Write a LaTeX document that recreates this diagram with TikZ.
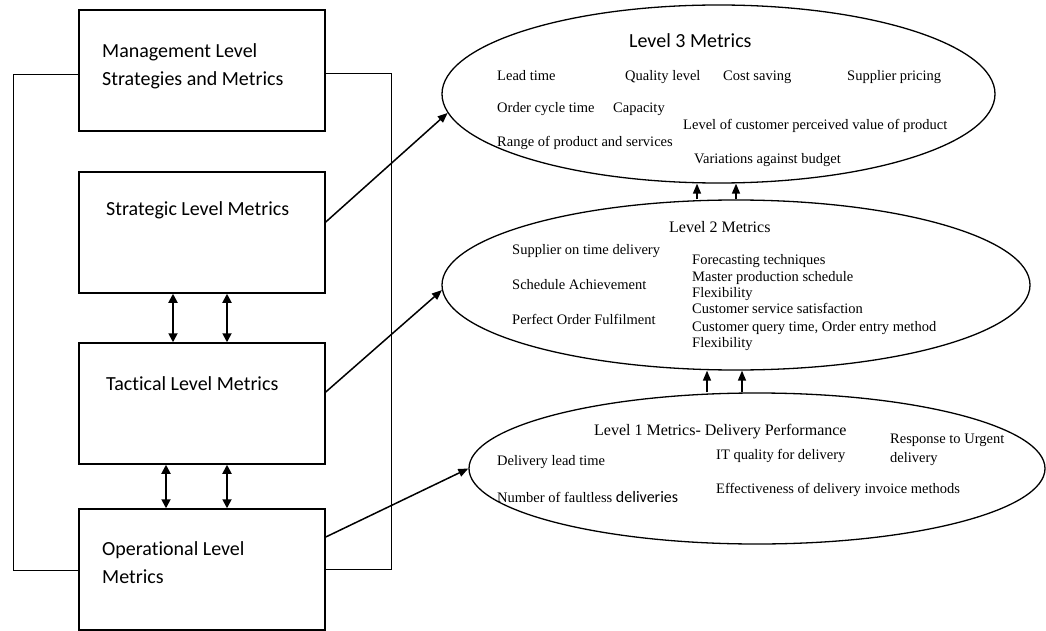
\documentclass[tikz,border=0pt]{standalone}
\usepackage{fontspec}
\setmainfont{Liberation Serif}
\newfontfamily\calibri[Ligatures=NoCommon]{Carlito}
\usetikzlibrary{arrows.meta,shapes.geometric}

\begin{document}
\begin{tikzpicture}[x=1pt,y=-1pt,
  box/.style={draw, line width=1.5pt, minimum width=246pt, minimum height=121pt, inner sep=0pt},
  oval/.style={draw, ellipse, line width=1.3pt, inner sep=0pt},
  boxtext/.style={anchor=base west, inner sep=0pt, font=\calibri\fontsize{20}{24}\selectfont},
  heading/.style={anchor=base west, inner sep=0pt, font=\fontsize{16}{19}\selectfont},
  item/.style={anchor=base west, inner sep=0pt, font=\fontsize{14.5}{17}\selectfont},
  link/.style={line width=1.5pt, -{Triangle[length=10pt,width=8pt]}},
  twoway/.style={line width=1.8pt, {Triangle[length=9pt,width=9pt]}-{Triangle[length=9pt,width=9pt]}},
  loopline/.style={line width=1pt}
]
\useasboundingbox (0,0) rectangle (1046,631);

% hierarchy of management levels
\node[box] (mgmt)  at (202,70.5)  {};
\node[box] (strat) at (202,232.5) {};
\node[box] (tact)  at (202,403.5) {};
\node[box] (oper)  at (202,569.5) {};

\node[boxtext] (mgmtA)  at (102,58)  {Management Level};
\node[boxtext] (mgmtB)  at (102,86)  {Strategies and Metrics};
\node[boxtext] (stratT) at (106,215) {Strategic Level Metrics};
\node[boxtext] (tactT)  at (106,390) {Tactical Level Metrics};
\node[boxtext] (operA)  at (102,555) {Operational Level};
\node[boxtext] (operB)  at (102,583) {Metrics};

% frame linking management and operational levels
\coordinate (lt) at (13,75);
\coordinate (lb) at (13,570);
\coordinate (rt) at (391,74);
\coordinate (rb) at (391,569);
\draw[loopline] (mgmt.west |- lt) -- (lt) -- (lb) -- (oper.west |- lb);
\draw[loopline] (mgmt.east |- rt) -- (rt) -- (rb) -- (oper.east |- rb);

% two-way links between levels
\draw[twoway] (strat.south -| 173,0) -- (tact.north -| 173,0);
\draw[twoway] (strat.south -| 227,0) -- (tact.north -| 227,0);
\draw[twoway] (tact.south -| 166,0) -- (oper.north -| 166,0);
\draw[twoway] (tact.south -| 227,0) -- (oper.north -| 227,0);

% metric ellipses
\node[oval, minimum width=553pt, minimum height=178pt] (L3) at (718.5,94) {};
\node[oval, minimum width=588pt, minimum height=170pt] (L2) at (736,285) {};
\node[oval, minimum width=576pt, minimum height=151pt] (L1) at (757,468.5) {};

% Level 3
\node[anchor=base west, inner sep=0pt, font=\calibri\fontsize{20}{24}\selectfont] (t3) at (629,48) {Level 3 Metrics};
\node[item] (l3a) at (497,81)  {Lead time};
\node[item] (l3b) at (625,81)  {Quality level};
\node[item] (l3c) at (723,81)  {Cost saving};
\node[item] (l3d) at (847,81)  {Supplier pricing};
\node[item] (l3e) at (497,113) {Order cycle time};
\node[item] (l3f) at (613,113) {Capacity};
\node[item] (l3g) at (683,130) {Level of customer perceived value of product};
\node[item] (l3h) at (497,147) {Range of product and services};
\node[item] (l3i) at (694,164) {Variations against budget};

% Level 2
\node[heading] (t2) at (669,233) {Level 2 Metrics};
\node[item] (l2a) at (512,254) {Supplier on time delivery};
\node[item] (l2b) at (512,289) {Schedule Achievement};
\node[item] (l2c) at (512,324) {Perfect Order Fulfilment};
\node[item] (l2d) at (692,264) {Forecasting techniques};
\node[item] (l2e) at (692,281) {Master production schedule};
\node[item] (l2f) at (692,297) {Flexibility};
\node[item] (l2g) at (692,313) {Customer service satisfaction};
\node[item] (l2h) at (692,331) {Customer query time, Order entry method};
\node[item] (l2i) at (692,347) {Flexibility};

% Level 1
\node[heading] (t1) at (594,435) {Level 1 Metrics- Delivery Performance};
\node[item] (l1a) at (497,465) {Delivery lead time};
\node[item] (l1b) at (497,502) {Number of faultless {\calibri\fontsize{16}{19}\selectfont deliveries}};
\node[item] (l1c) at (716,459) {IT quality for delivery};
\node[item] (l1d) at (716,493) {Effectiveness of delivery invoice methods};
\node[item] (l1e) at (890,443) {Response to Urgent};
\node[item] (l1f) at (890,462) {delivery};

% links from levels to metric ellipses
\draw[link] (strat.east |- 0,222) -- (L3.184);
\draw[link] (tact.east |- 0,392) -- (L2.181.5);
\draw[link] (oper.east |- 0,537) -- (L1.180);

% upward links between metric levels
\draw[link] (L2.north -| 697,0) -- (L3.south -| 697,0);
\draw[link] (L2.north -| 736,0) -- (L3.south -| 736,0);
\draw[link] (L1.north -| 707,0) -- (L2.south -| 707,0);
\draw[link] (L1.north -| 742,0) -- (L2.south -| 742,0);
\end{tikzpicture}
\end{document}
